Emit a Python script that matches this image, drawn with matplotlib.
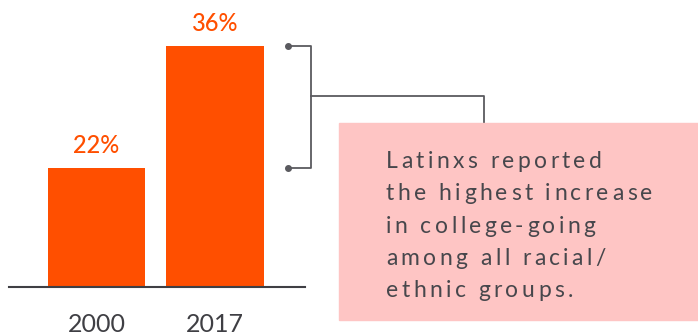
import matplotlib
matplotlib.use('Agg')
import matplotlib.pyplot as plt
from matplotlib.patches import Rectangle
from matplotlib.transforms import Affine2D

plt.rcParams['font.family'] = ['Lato', 'DejaVu Sans']

years = ['2000', '2017']
rates = [22, 36]
labels = ['22%', '36%']
note = ['Latinxs reported', 'the highest increase', 'in college-going',
        'among all racial/', 'ethnic groups.']

ORANGE = '#FF4F00'
GREY = '#3f3f44'
PINK = '#FEC5C4'

W, H = 698, 336
fig = plt.figure(figsize=(W / 100, H / 100), dpi=100)
rend = fig.canvas.get_renderer()


def tracked(ax, x, y, s, track, ha='left', transform=None, **kw):
    # text with extra letter spacing (px), drawn char by char
    tr = transform if transform is not None else ax.transData

    def width(sub):
        t = ax.text(0, 0, sub, **kw)
        w = t.get_window_extent(rend).width
        t.remove()
        return w

    total = width(s) + (len(s) - 1) * track
    shift = -total / 2 if ha == 'center' else 0
    for i, c in enumerate(s):
        if c == ' ':
            continue
        left = width(s[:i + 1]) - width(c) + i * track + shift
        ax.text(x, y, c, transform=tr + Affine2D().translate(left, 0),
                ha='left', **kw)


# bar axes: baseline at y=287px, spans x 9..305px
ax = fig.add_axes([9 / W, (H - 287) / H, 296 / W, 287 / H])
x = range(len(years))
ax.bar(x, rates, width=0.82, color=ORANGE)
ax.set_ylim(8.3, 41.3)
ax.set_xlim(-0.738, 1.759)
for i, (v, t) in enumerate(zip(rates, labels)):
    ax.text(i, v + 1.75, t, ha='center', va='baseline',
            color=ORANGE, fontsize=17, fontweight='medium')
ax.set_xticks(list(x))
ax.set_xticklabels(years, fontsize=18, color=GREY)
ax.tick_params(axis='x', length=0, pad=18.5)
ax.set_yticks([])
for s in ['top', 'right', 'left']:
    ax.spines[s].set_visible(False)
ax.spines['bottom'].set_color(GREY)
ax.spines['bottom'].set_linewidth(1.5)
ax.patch.set_alpha(0)

# annotation overlay in pixel coords
ov = fig.add_axes([0, 0, 1, 1], zorder=-1)
ov.set_xlim(0, W)
ov.set_ylim(H, 0)
ov.axis('off')
lc = '#5a5a5f'
ov.plot([288, 311, 311, 288], [46, 46, 168, 168], color=lc, lw=1.3)
ov.plot([288, 288], [46, 168], 'o', color=lc, ms=4, ls='none')
ov.plot([311, 484, 484], [96, 96, 130], color=lc, lw=1.3)
ov.add_patch(Rectangle((339, 123), W - 339, 320 - 123, color=PINK, zorder=3))
for k, line in enumerate(note):
    tracked(ov, 386, 168 + k * 32.3, line, 3.4, va='baseline',
            fontsize=16.5, color='#47474c', zorder=4)

fig.savefig('out.png', dpi=100)
